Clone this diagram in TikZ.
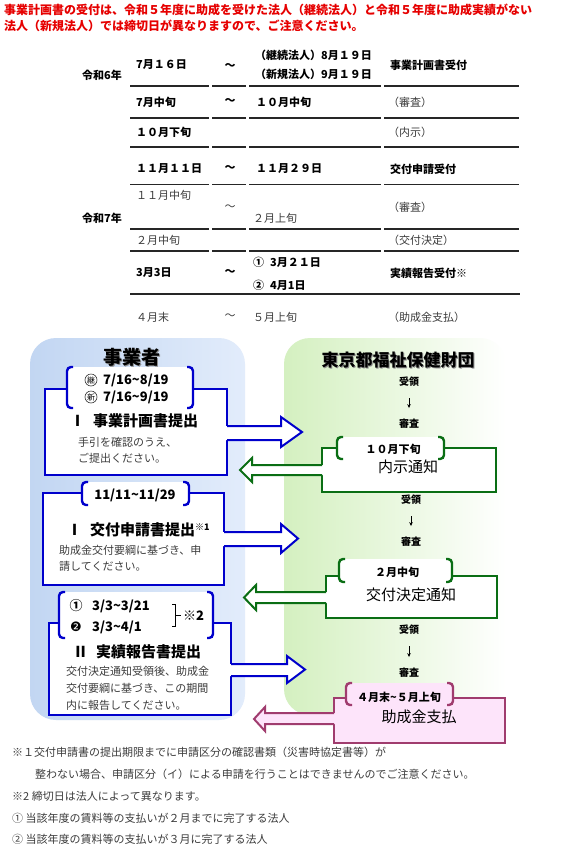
\documentclass[tikz,border=0pt]{standalone}
\usepackage{fontspec}
\setmainfont{Noto Sans CJK JP}
\newfontfamily\djv{DejaVu Sans}
\usetikzlibrary{calc,arrows.meta}
\definecolor{hdred}{RGB}{230,0,0}
\definecolor{txtgray}{RGB}{60,60,60}
\definecolor{bblue}{RGB}{0,0,204}
\definecolor{bgreen}{RGB}{10,110,20}
\definecolor{bpink}{RGB}{160,60,110}
\definecolor{pinkfill}{RGB}{253,228,250}
\definecolor{panelblueL}{RGB}{194,214,242}
\definecolor{panelblueR}{RGB}{226,236,251}
\definecolor{panelgreenL}{RGB}{212,240,192}
\newcommand\mybrk[2]{%
  \draw[#2,line width=2.4pt,rounded corners=4pt] ($(#1.north west)+(6,0)$) -- (#1.north west) -- (#1.south west) -- ($(#1.south west)+(6,0)$);
  \draw[#2,line width=2.4pt,rounded corners=4pt] ($(#1.north east)+(-6,0)$) -- (#1.north east) -- (#1.south east) -- ($(#1.south east)+(-6,0)$);}
\begin{document}
\begin{tikzpicture}[x=1pt,y=-1pt,
  hdr/.style={anchor=west,inner sep=0pt,text=hdred,font=\fontsize{12}{14}\selectfont\bfseries},
  tb/.style={anchor=west,inner sep=0pt,font=\fontsize{11}{13}\selectfont\bfseries},
  tr/.style={anchor=west,inner sep=0pt,text=txtgray,font=\fontsize{11}{13}\selectfont},
  tbc/.style={tb,anchor=center},
  trc/.style={tr,anchor=center},
  tline/.style={draw=black!85,line width=1.3pt},
  boxbase/.style={anchor=north west,inner sep=0pt,outer sep=0pt,line width=2pt},
  lbox/.style={boxbase,draw=bblue,fill=white},
  gbox/.style={boxbase,draw=bgreen,fill=white},
  pbox/.style={boxbase,draw=bpink,fill=pinkfill},
  kbox/.style={anchor=north west,inner sep=0pt,outer sep=0pt,fill=white},
  kpbox/.style={kbox,fill=pinkfill},
  datet/.style={anchor=west,inner sep=0pt,font=\fontsize{13}{15}\selectfont\bfseries},
  ttl/.style={anchor=west,inner sep=0pt,font=\fontsize{15}{17}\selectfont\bfseries},
  body/.style={anchor=west,inner sep=0pt,text=txtgray,font=\fontsize{11}{13}\selectfont},
  gsmall/.style={inner sep=0pt,font=\fontsize{10}{12}\selectfont\bfseries},
  gdate/.style={inner sep=0pt,font=\fontsize{11}{13}\selectfont\bfseries},
  gttl/.style={inner sep=0pt,font=\fontsize{15}{17}\selectfont},
  circ/.style={circle,draw=black!80,line width=0.6pt,inner sep=0pt,minimum size=12pt,font=\fontsize{8}{8}\selectfont},
  flowarr/.style={line width=0.8pt,-{Stealth[length=4pt,width=3.5pt]},shorten <=11pt,shorten >=11pt},
  fnote/.style={anchor=west,inner sep=0pt,text=txtgray,font=\fontsize{11}{13}\selectfont}
]
\useasboundingbox (0,0) rectangle (565,847);
\fill[white] (0,0) rectangle (565,847);

% header
\node[hdr] (h1) at (4,10) {事業計画書の受付は、令和５年度に助成を受けた法人（継続法人）と令和５年度に助成実績がない};
\node[hdr] (h2) at (4,26) {法人（新規法人）では締切日が異なりますので、ご注意ください。};

% table lines
\foreach \yy in {86,118,147,184.5,229,251}{
  \draw[tline] (130,\yy) -- (209,\yy);
  \draw[tline] (212,\yy) -- (246,\yy);
  \draw[tline] (249,\yy) -- (381,\yy);
  \draw[tline] (384,\yy) -- (519,\yy);
}
\draw[tline] (130,294) -- (520,294);

% table text
\node[tb] (y6) at (82,75) {令和6年};
\node[tb] (y7) at (82,218) {令和7年};
\node[tb] (r1a) at (136,65) {7月１６日};
\node[tbc] (r1b) at (230,67) {～};
\node[tb] (r1c) at (255,55) {（継続法人）8月１９日};
\node[tb] (r1d) at (255,74) {（新規法人）9月１９日};
\node[tb] (r1e) at (390,65) {事業計画書受付};
\node[tb] (r2a) at (136,102) {7月中旬};
\node[tbc] (r2b) at (230,102) {～};
\node[tb] (r2c) at (256,102) {１０月中旬};
\node[tr] (r2d) at (388,102) {（審査）};
\node[tb] (r3a) at (136,132) {１０月下旬};
\node[tr] (r3d) at (388,132) {（内示）};
\node[tb] (r4a) at (136,169) {１１月１１日};
\node[tbc] (r4b) at (230,169) {～};
\node[tb] (r4c) at (256,169) {１１月２９日};
\node[tb] (r4e) at (390,169) {交付申請受付};
\node[tr] (r5a) at (136,195) {１１月中旬};
\node[trc] (r5b) at (230,208) {～};
\node[tr] (r5c) at (253,218) {２月上旬};
\node[tr] (r5d) at (388,207) {（審査）};
\node[tr] (r6a) at (136,240) {２月中旬};
\node[tr] (r6d) at (388,240) {（交付決定）};
\node[tb] (r7a) at (136,273) {3月3日};
\node[tbc] (r7b) at (230,273) {～};
\node[tb] (r7c) at (253,262) {①\hspace{6pt}3月２１日};
\node[tb] (r7d) at (253,285) {②\hspace{6pt}4月1日};
\node[tb] (r7e) at (390,273) {実績報告受付※};
\node[tr] (r8a) at (136,317) {４月末};
\node[trc] (r8b) at (230,317) {～};
\node[tr] (r8c) at (253,317) {５月上旬};
\node[tr] (r8d) at (388,317) {（助成金支払）};

% panels
\node[anchor=north west,inner sep=0pt,outer sep=0pt,rounded corners=26pt,left color=panelblueL,right color=panelblueR,minimum width=215pt,minimum height=382pt] (pL) at (30,338) {};
\node[anchor=north west,inner sep=0pt,outer sep=0pt,rounded corners=26pt,left color=panelgreenL,right color=white,minimum width=222pt,minimum height=377pt] (pR) at (284,338) {};

\node[font=\fontsize{19}{21}\selectfont\bfseries,text=black!45,inner sep=0pt] (tLs) at (133.2,358.2) {事業者};
\node[font=\fontsize{19}{21}\selectfont\bfseries,inner sep=0pt] (tL) at (132,357) {事業者};
\node[font=\fontsize{17}{19}\selectfont\bfseries,text=black!45,inner sep=0pt] (tRs) at (399.2,361.2) {東京都福祉保健財団};
\node[font=\fontsize{17}{19}\selectfont\bfseries,inner sep=0pt] (tR) at (398,360) {東京都福祉保健財団};

% left boxes
\node[lbox,minimum width=182pt,minimum height=86pt] (b1) at (45,389) {};
\node[lbox,minimum width=181pt,minimum height=92pt] (b2) at (43,493) {};
\node[lbox,minimum width=182pt,minimum height=92pt] (b3) at (49,623) {};
% right boxes
\node[gbox,minimum width=174pt,minimum height=44pt] (g1) at (322,448) {};
\node[gbox,minimum width=171pt,minimum height=42pt] (g2) at (326,576) {};
\node[pbox,minimum width=171pt,minimum height=45pt] (p1) at (334,698) {};

% blue arrows (right)
\fill[white] ($(b1.east|-0,426)+(-2,0)$) -- (281,426) -- (281,417) -- (302,432) -- (281,447) -- (281,440) -- ($(b1.east|-0,440)+(-2,0)$) -- cycle;
\draw[bblue,line width=2pt] (b1.east|-0,426) -- (281,426) -- (281,417) -- (302,432) -- (281,447) -- (281,440) -- (b1.east|-0,440);
\fill[white] ($(b2.east|-0,532)+(-2,0)$) -- (281,532) -- (281,524) -- (298,538.5) -- (281,553) -- (281,546) -- ($(b2.east|-0,546)+(-2,0)$) -- cycle;
\draw[bblue,line width=2pt] (b2.east|-0,532) -- (281,532) -- (281,524) -- (298,538.5) -- (281,553) -- (281,546) -- (b2.east|-0,546);
\fill[white] ($(b3.east|-0,664)+(-2,0)$) -- (287,664) -- (287,656) -- (305,669.5) -- (287,683) -- (287,676) -- ($(b3.east|-0,676)+(-2,0)$) -- cycle;
\draw[bblue,line width=2pt] (b3.east|-0,664) -- (287,664) -- (287,656) -- (305,669.5) -- (287,683) -- (287,676) -- (b3.east|-0,676);

% green / pink arrows (left)
\fill[white] ($(g1.west|-0,465)+(2,0)$) -- (252,465) -- (252,458) -- (240,470) -- (252,482) -- (252,475) -- ($(g1.west|-0,475)+(2,0)$) -- cycle;
\draw[bgreen,line width=2pt] (g1.west|-0,465) -- (252,465) -- (252,458) -- (240,470) -- (252,482) -- (252,475) -- (g1.west|-0,475);
\fill[white] ($(g2.west|-0,592)+(2,0)$) -- (256,592) -- (256,585) -- (244,597.5) -- (256,610) -- (256,603) -- ($(g2.west|-0,603)+(2,0)$) -- cycle;
\draw[bgreen,line width=2pt] (g2.west|-0,592) -- (256,592) -- (256,585) -- (244,597.5) -- (256,610) -- (256,603) -- (g2.west|-0,603);
\fill[pinkfill] ($(p1.west|-0,713)+(2,0)$) -- (265,713) -- (265,707) -- (254,719) -- (265,731) -- (265,724) -- ($(p1.west|-0,724)+(2,0)$) -- cycle;
\draw[bpink,line width=2pt] (p1.west|-0,713) -- (265,713) -- (265,707) -- (254,719) -- (265,731) -- (265,724) -- (p1.west|-0,724);

% bracket regions
\node[kbox,minimum width=126pt,minimum height=41pt] (k1) at (67,367) {};
\node[kbox,minimum width=107pt,minimum height=23pt] (k2) at (82,482) {};
\node[kbox,minimum width=154pt,minimum height=46pt] (k3) at (59,592) {};
\node[kbox,minimum width=107pt,minimum height=22pt] (kg1) at (337,437) {};
\node[kbox,minimum width=113pt,minimum height=23pt] (kg2) at (339,559) {};
\node[kpbox,minimum width=107pt,minimum height=22pt] (kp) at (346,683) {};
\mybrk{k1}{bblue}
\mybrk{k2}{bblue}
\mybrk{k3}{bblue}
\mybrk{kg1}{bgreen}
\mybrk{kg2}{bgreen}
\mybrk{kp}{bpink}

% box 1 texts
\node[circ] (c1) at (91,380) {継};
\node[datet] (d1) at (103,380) {7/16\textasciitilde8/19};
\node[circ] (c2) at (91,397) {新};
\node[datet] (d2) at (103,397) {7/16\textasciitilde9/19};
\node[ttl] (t1) at (70,421) {Ⅰ\hspace{8pt}事業計画書提出};
\node[body] (x1a) at (78,442) {手引を確認のうえ、};
\node[body] (x1b) at (78,458) {ご提出ください。};

% box 2 texts
\node[datet,anchor=center] (d3) at (135,495) {11/11\textasciitilde11/29};
\node[ttl] (t2) at (67,530) {Ⅰ\hspace{8pt}交付申請書提出\raisebox{5pt}{\fontsize{9}{9}\selectfont\bfseries ※1}};
\node[body] (x2a) at (59,550) {助成金交付要綱に基づき、申};
\node[body] (x2b) at (59,566) {請してください。};

% box 3 texts
\node[datet,anchor=center] (n1) at (76,606) {①};
\node[datet] (d4) at (92,606) {3/3\textasciitilde3/21};
\node[anchor=center,inner sep=0pt,font=\djv\fontsize{13}{15}\selectfont] (n2) at (76,627) {❷};
\node[datet] (d5) at (92,627) {3/3\textasciitilde4/1};
\draw[black,line width=0.8pt] (172,604) -- (175,604) -- (175,626) -- (172,626) (175,615) -- (181,615);
\node[datet] (s2) at (183,616) {※2};
\node[ttl] (t3) at (73,652) {Ⅱ\hspace{8pt}実績報告書提出};
\node[body] (x3a) at (66,671) {交付決定通知受領後、助成金};
\node[body] (x3b) at (66,688) {交付要綱に基づき、この期間};
\node[body] (x3c) at (66,705) {内に報告してください。};

% right column flow
\node[gsmall] (ju1) at (409,382) {受領};
\node[gsmall] (sh1) at (409,424) {審査};
\draw[flowarr] (ju1) -- (sh1);
\node[gdate] (gd1) at (393,449) {１０月下旬};
\node[gttl] (gt1) at (408,467) {内示通知};
\node[gsmall] (ju2) at (411,500) {受領};
\node[gsmall] (sh2) at (411,542) {審査};
\draw[flowarr] (ju2) -- (sh2);
\node[gdate] (gd2) at (397,572) {２月中旬};
\node[gttl] (gt2) at (411,595) {交付決定通知};
\node[gsmall] (ju3) at (409,630) {受領};
\node[gsmall] (sh3) at (409,673) {審査};
\draw[flowarr] (ju3) -- (sh3);
\node[gdate] (gd3) at (399,697) {４月末\textasciitilde５月上旬};
\node[gttl] (gt3) at (419,717) {助成金支払};

% footnotes
\node[fnote] (f1) at (12,752) {※１交付申請書の提出期限までに申請区分の確認書類（災害時協定書等）が};
\node[fnote] (f2) at (35,774) {整わない場合、申請区分（イ）による申請を行うことはできませんのでご注意ください。};
\node[fnote] (f3) at (12,796) {※2 締切日は法人によって異なります。};
\node[fnote] (f4) at (12,818) {① 当該年度の賃料等の支払いが２月までに完了する法人};
\node[fnote] (f5) at (12,839) {② 当該年度の賃料等の支払いが３月に完了する法人};
\end{tikzpicture}
\end{document}
